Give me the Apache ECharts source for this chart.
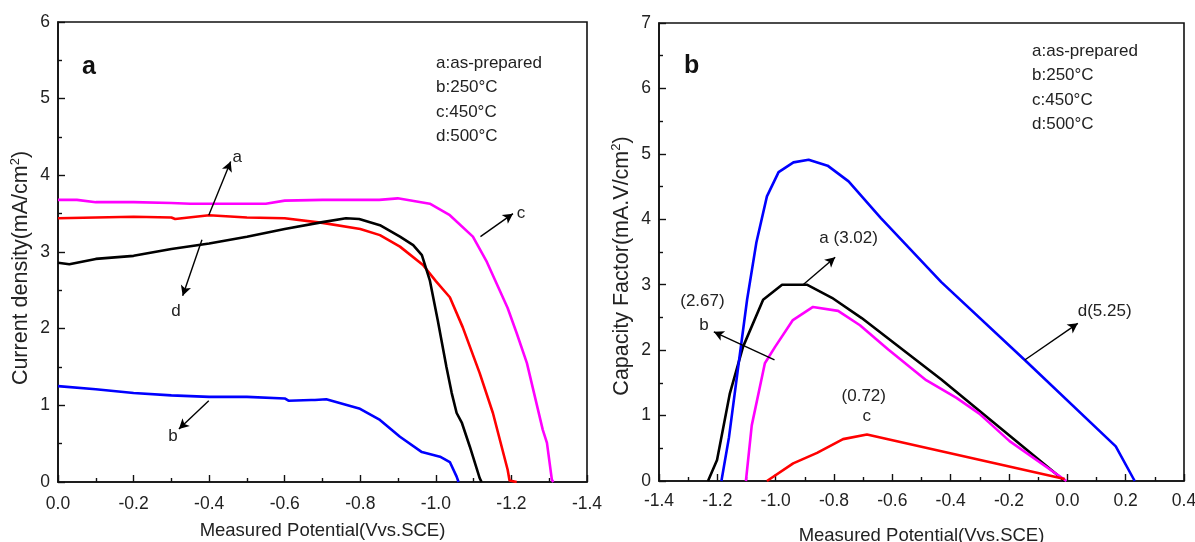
<!DOCTYPE html>
<html><head><meta charset="utf-8">
<script src="https://cdn.jsdelivr.net/npm/echarts@6/dist/echarts.min.js"></script>
<style>html,body{margin:0;padding:0;background:#fff}#c{width:1195px;height:542px}</style>
</head><body><div id="c"></div>
<script>
// ---------- Panel a: J-V curves (x: potential V vs SCE, y: mA/cm2) ----------
const jvA = [[0,3.44],[-0.1,3.45],[-0.2,3.46],[-0.3,3.45],[-0.31,3.43],[-0.4,3.48],[-0.5,3.45],[-0.6,3.44],[-0.7,3.38],[-0.8,3.30],[-0.852,3.22],[-0.905,3.07],[-0.966,2.83],[-1.0,2.62],[-1.037,2.41],[-1.071,2.02],[-1.116,1.42],[-1.151,0.90],[-1.19,0.16],[-1.195,0.02],[-1.214,0]];
const jvB = [[0,1.25],[-0.1,1.21],[-0.2,1.16],[-0.3,1.13],[-0.4,1.11],[-0.5,1.11],[-0.6,1.09],[-0.61,1.06],[-0.67,1.07],[-0.68,1.07],[-0.71,1.08],[-0.797,0.96],[-0.852,0.81],[-0.905,0.59],[-0.963,0.39],[-1.011,0.33],[-1.037,0.26],[-1.055,0.07],[-1.06,0]];
const jvC = [[0,3.68],[-0.05,3.68],[-0.1,3.65],[-0.2,3.65],[-0.3,3.64],[-0.35,3.63],[-0.45,3.63],[-0.55,3.63],[-0.6,3.67],[-0.7,3.68],[-0.8,3.68],[-0.85,3.68],[-0.899,3.70],[-0.984,3.63],[-1.037,3.48],[-1.098,3.20],[-1.135,2.87],[-1.19,2.27],[-1.214,1.94],[-1.241,1.55],[-1.283,0.68],[-1.294,0.51],[-1.307,0.03],[-1.311,0]];
const jvD = [[0,2.86],[-0.03,2.84],[-0.1,2.91],[-0.2,2.95],[-0.3,3.04],[-0.4,3.11],[-0.5,3.20],[-0.6,3.30],[-0.7,3.39],[-0.762,3.44],[-0.797,3.43],[-0.852,3.35],[-0.905,3.20],[-0.94,3.09],[-0.963,2.96],[-0.984,2.63],[-1.005,2.11],[-1.028,1.50],[-1.042,1.16],[-1.055,0.90],[-1.069,0.77],[-1.09,0.46],[-1.116,0.05],[-1.121,0]];

// ---------- Panel b: capacity factor curves ----------
const cfA = [[-1.232,0],[-1.201,0.32],[-1.157,1.34],[-1.112,2.05],[-1.043,2.77],[-0.978,3.0],[-0.893,3.0],[-0.807,2.80],[-0.705,2.49],[-0.432,1.55],[-0.009,0]];
const cfB = [[-1.102,0],[-1.082,0.85],[-1.037,1.80],[-1.002,2.05],[-0.941,2.46],[-0.872,2.66],[-0.786,2.60],[-0.711,2.38],[-0.614,2.01],[-0.484,1.54],[-0.38,1.27],[-0.302,1.03],[-0.198,0.61],[-0.003,0]];
const cfC = [[-1.03,0],[-0.94,0.27],[-0.858,0.43],[-0.769,0.64],[-0.687,0.71],[-0.009,0.03]];
const cfD = [[-1.186,0],[-1.16,0.67],[-1.133,1.59],[-1.098,2.77],[-1.066,3.65],[-1.03,4.35],[-0.99,4.72],[-0.939,4.87],[-0.887,4.91],[-0.822,4.82],[-0.75,4.58],[-0.64,4.02],[-0.432,3.04],[-0.146,1.85],[0.166,0.53],[0.231,0]];

// ---------- Text ----------
const legendLines = ['a:as-prepared','b:250°C','c:450°C','d:500°C'];
const xName = 'Measured Potential(Vvs.SCE)';
// annotations in data coordinates: [label, x, y]
const annotA = [['a',-0.474,4.24],['d',-0.312,2.23],['c',-1.225,3.50],['b',-0.304,0.59]];
const arrowsA = [[-0.399,3.48,-0.457,4.18],[-0.381,3.16,-0.33,2.43],[-1.118,3.20,-1.204,3.50],[-0.399,1.06,-0.32,0.69]];
const annotB = [['a (3.02)',-0.75,3.71],['(2.67)',-1.251,2.74],['b',-1.246,2.38],['d(5.25)',0.128,2.60],['(0.72)',-0.698,1.30],['c',-0.688,0.99]];
const arrowsB = [[-0.906,3.0,-0.796,3.42],[-1.004,1.85,-1.212,2.28],[-0.146,1.85,0.036,2.41]];

const FONT = 'Liberation Sans, Arial, sans-serif';
const chart = echarts.init(document.getElementById('c'));

function fmt(v){ if (Math.abs(v) < 1e-9) return '0.0'; return v.toFixed(1); }
function xAxisCfg(idx, min, max, inverse, labelMargin, nameGap){
  return {type:'value', gridIndex:idx, min:min, max:max, interval:0.2, inverse:inverse,
    name:xName, nameLocation:'middle', nameGap:nameGap,
    nameTextStyle:{fontFamily:FONT,fontSize:18.5,color:'#222'},
    axisLine:{onZero:false,lineStyle:{color:'#111',width:1.6}},
    axisTick:{inside:true,length:7,lineStyle:{color:'#111',width:1.4}},
    minorTick:{show:true,splitNumber:2,length:4,lineStyle:{color:'#111',width:1.4}},
    splitLine:{show:false},
    axisLabel:{formatter:fmt,fontFamily:FONT,fontSize:17.5,color:'#222',margin:labelMargin,showMinLabel:true,showMaxLabel:true}};
}
function yAxisCfg(idx, max, nameRich, shift){
  return {type:'value', gridIndex:idx, min:0, max:max, interval:1,
    name:nameRich, nameLocation:'middle', nameGap:25,
    nameTextStyle:{fontFamily:FONT,fontSize:21.5,color:'#222',padding:[0,shift,0,0],
      rich:{n:{fontFamily:FONT,fontSize:21.5,color:'#222'},s:{fontFamily:FONT,fontSize:13,color:'#222',verticalAlign:'top',padding:[0,0,11,0]}}},
    axisLine:{onZero:false,lineStyle:{color:'#111',width:1.6}},
    axisTick:{inside:true,length:7,lineStyle:{color:'#111',width:1.4}},
    minorTick:{show:true,splitNumber:2,length:4,lineStyle:{color:'#111',width:1.4}},
    splitLine:{show:false},
    axisLabel:{fontFamily:FONT,fontSize:17.5,color:'#222',margin:8}};
}
function curve(name, data, color, idx){
  return {type:'line', name:name, data:data, xAxisIndex:idx, yAxisIndex:idx, showSymbol:false,
    symbol:'none', lineStyle:{color:color,width:2.6}, itemStyle:{color:color}, silent:true, z:3};
}
function annotSeries(idx, labels, arrows){
  return {type:'line', data:[], xAxisIndex:idx, yAxisIndex:idx, silent:true, z:5,
    markLine:{silent:true, symbol:['none','arrow'], symbolSize:[8,10], animation:false,
      lineStyle:{color:'#000',width:1.4,type:'solid'}, label:{show:false},
      data:arrows.map(a=>[{coord:[a[0],a[1]]},{coord:[a[2],a[3]]}])},
    markPoint:{silent:true, symbol:'circle', symbolSize:1, itemStyle:{color:'rgba(0,0,0,0)'}, animation:false,
      label:{show:true,position:'inside',color:'#222',fontFamily:FONT,fontSize:17,formatter:p=>p.name},
      data:labels.map(l=>({name:l[0],coord:[l[1],l[2]]}))}};
}
function legendTitle(x, y){
  return {text:legendLines.join('\n'), left:x, top:y, textStyle:{fontFamily:FONT,fontSize:17,fontWeight:'normal',color:'#222',lineHeight:24.5}};
}

chart.setOption({
  animation:false,
  backgroundColor:'#fff',
  title:[
    {text:'a', left:77, top:50, textStyle:{fontFamily:FONT,fontSize:25,fontWeight:'bold',color:'#111'}},
    {text:'b', left:679, top:49, textStyle:{fontFamily:FONT,fontSize:25,fontWeight:'bold',color:'#111'}},
    legendTitle(431, 46),
    legendTitle(1027, 34)
  ],
  grid:[
    {left:58, top:22, width:529, height:460, show:true, borderColor:'#111', borderWidth:1.6, backgroundColor:'transparent', containLabel:false, outerBoundsMode:'none'},
    {left:659, top:23, width:525, height:458, show:true, borderColor:'#111', borderWidth:1.6, backgroundColor:'transparent', containLabel:false, outerBoundsMode:'none'}
  ],
  xAxis:[ xAxisCfg(0,-1.4,0,true,13,39), xAxisCfg(1,-1.4,0.4,false,11,45) ],
  yAxis:[ yAxisCfg(0,6,'{n|Current density(mA/cm}{s|2}{n|)}',32), yAxisCfg(1,7,'{n|Capacity Factor(mA.V/cm}{s|2}{n|)}',28) ],
  series:[
    curve('a',jvA,'#ff0000',0), curve('b',jvB,'#0000ff',0), curve('c',jvC,'#ff00ff',0), curve('d',jvD,'#000000',0),
    curve('a',cfA,'#000000',1), curve('b',cfB,'#ff00ff',1), curve('c',cfC,'#ff0000',1), curve('d',cfD,'#0000ff',1),
    annotSeries(0, annotA, arrowsA), annotSeries(1, annotB, arrowsB)
  ]
});
</script></body></html>
